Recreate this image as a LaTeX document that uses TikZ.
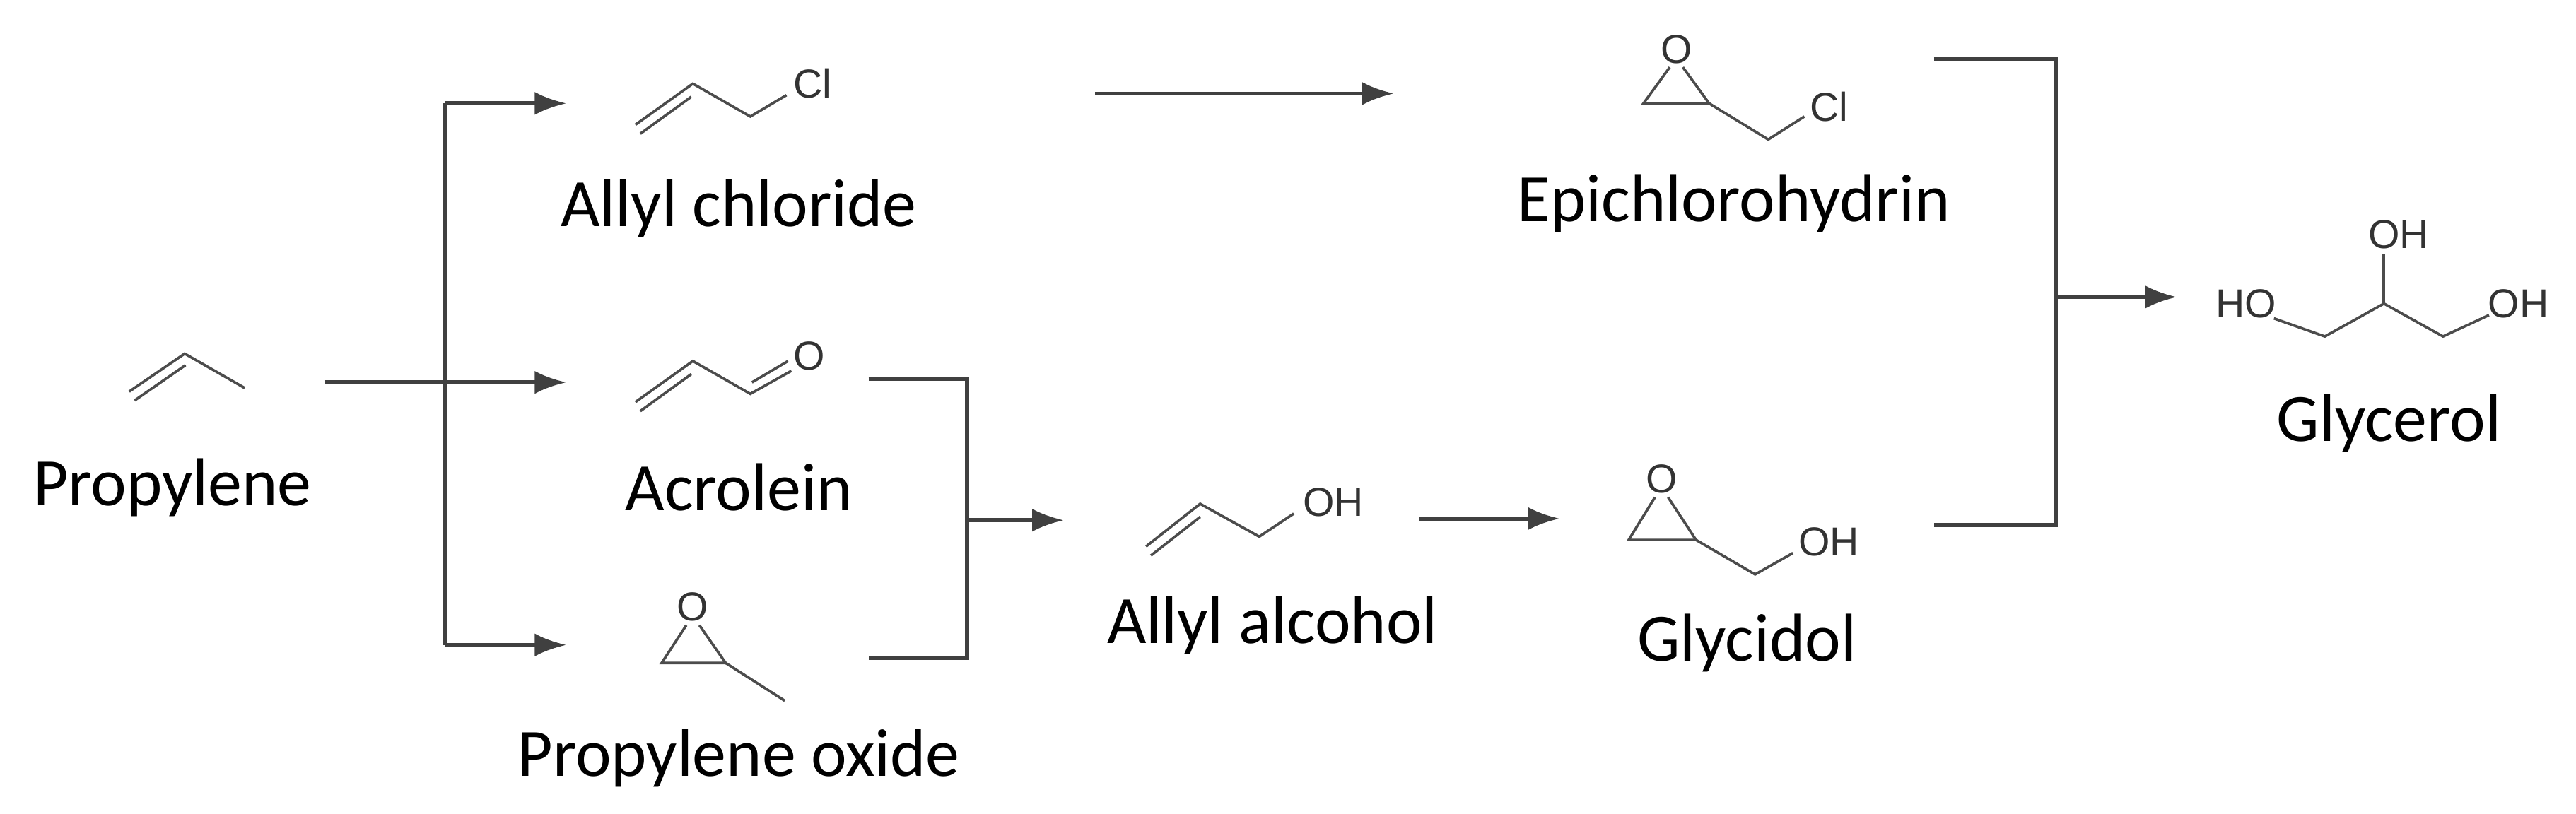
\documentclass[tikz,border=0pt]{standalone}
\usepackage{fontspec}
\setmainfont{Carlito}
\newfontfamily\molfont{Liberation Sans}
\usetikzlibrary{arrows.meta}
\begin{document}
\begin{tikzpicture}[x=0.02cm,y=-0.02cm,
  lab/.style={font=\fontsize{23.5}{28}\selectfont},
  atom/.style={font=\molfont\fontsize{14}{16}\selectfont,inner sep=0.5pt,text=black!80},
  bond/.style={line width=0.9pt,black!70},
  conn/.style={line width=1.4pt,black!75},
  arr/.style={conn,-{Latex[length=11pt,width=8pt]}}]
\useasboundingbox (0,0) rectangle (1569,496);
% labels
\node[lab] (lprop) at (105,297) {Propylene};
\node[lab] (lallcl) at (450,127) {Allyl chloride};
\node[lab] (lacro) at (450,297) {Acrolein};
\node[lab] (lpo) at (450,462) {Propylene oxide};
\node[lab] (lallyl) at (775,381) {Allyl alcohol};
\node[lab] (lgly) at (1064,392) {Glycidol};
\node[lab] (lepi) at (1056,124) {Epichlorohydrin};
\node[lab] (lglyc) at (1455,258) {Glycerol};
% propylene
\draw[bond] (78.7,238.6)--(112.5,215.5)--(149,236.4);
\draw[bond] (82,244)--(113,222.5);
% allyl chloride
\draw[bond] (387,76)--(422,51)--(457,71)--(479,58);
\draw[bond] (390,81.5)--(421,59);
\node[atom] (cl1) at (495,51) {Cl};
% acrolein
\draw[bond] (387,245)--(422,220)--(457,240)--(482,226);
\draw[bond] (390,250.5)--(421,228);
\draw[bond] (458,233)--(480,220);
\node[atom] (o1) at (493,217) {O};
% propylene oxide
\node[atom] (o2) at (422,370) {O};
\draw[bond] (418,381)--(403,404)--(442,404)--(426,381);
\draw[bond] (442,404)--(478,427);
% epichlorohydrin
\node[atom] (o3) at (1021,30) {O};
\draw[bond] (1017,41)--(1001,63)--(1041,63)--(1025,41);
\draw[bond] (1041,63)--(1077,85)--(1099,71);
\node[atom] (cl2) at (1114,65) {Cl};
% allyl alcohol
\draw[bond] (698,333)--(731,307)--(767,327)--(788,313);
\draw[bond] (701,338.5)--(731,315);
\node[atom] (oh1) at (812,306) {OH};
% glycidol
\node[atom] (o4) at (1012,292) {O};
\draw[bond] (1008,303)--(992,329)--(1033,329)--(1016,303);
\draw[bond] (1033,329)--(1069,350)--(1092,337);
\node[atom] (oh2) at (1114,330) {OH};
% glycerol
\node[atom] (ho) at (1368,185) {HO};
\node[atom] (oh3) at (1461,143) {OH};
\node[atom] (oh4) at (1534,185) {OH};
\draw[bond] (1385,194)--(1416,205)--(1452,185)--(1488,205)--(1516,192);
\draw[bond] (1452,185)--(1452,155);
% connectors
\coordinate (s0) at (198,233);
\coordinate (v0) at (271,233);
\coordinate (vt) at (271,63);
\coordinate (vb) at (271,393);
\draw[arr] (s0)--(345,233);
\draw[conn] (vt)--(vb);
\draw[arr] (vt)--(345,63);
\draw[arr] (vb)--(345,393);
\coordinate (b1a) at (529,231);
\coordinate (b1b) at (529,401);
\coordinate (b1m) at (589,317);
\draw[conn] (b1a)--(589,231)--(589,401)--(b1b);
\draw[arr] (b1m)--(648,317);
\draw[arr] (864,316)--(950,316);
\draw[arr] (667,57)--(849,57);
\coordinate (b2a) at (1178,36);
\coordinate (b2b) at (1178,320);
\coordinate (b2m) at (1252,181);
\draw[conn] (b2a)--(1252,36)--(1252,320)--(b2b);
\draw[arr] (b2m)--(1326,181);
\end{tikzpicture}
\end{document}
